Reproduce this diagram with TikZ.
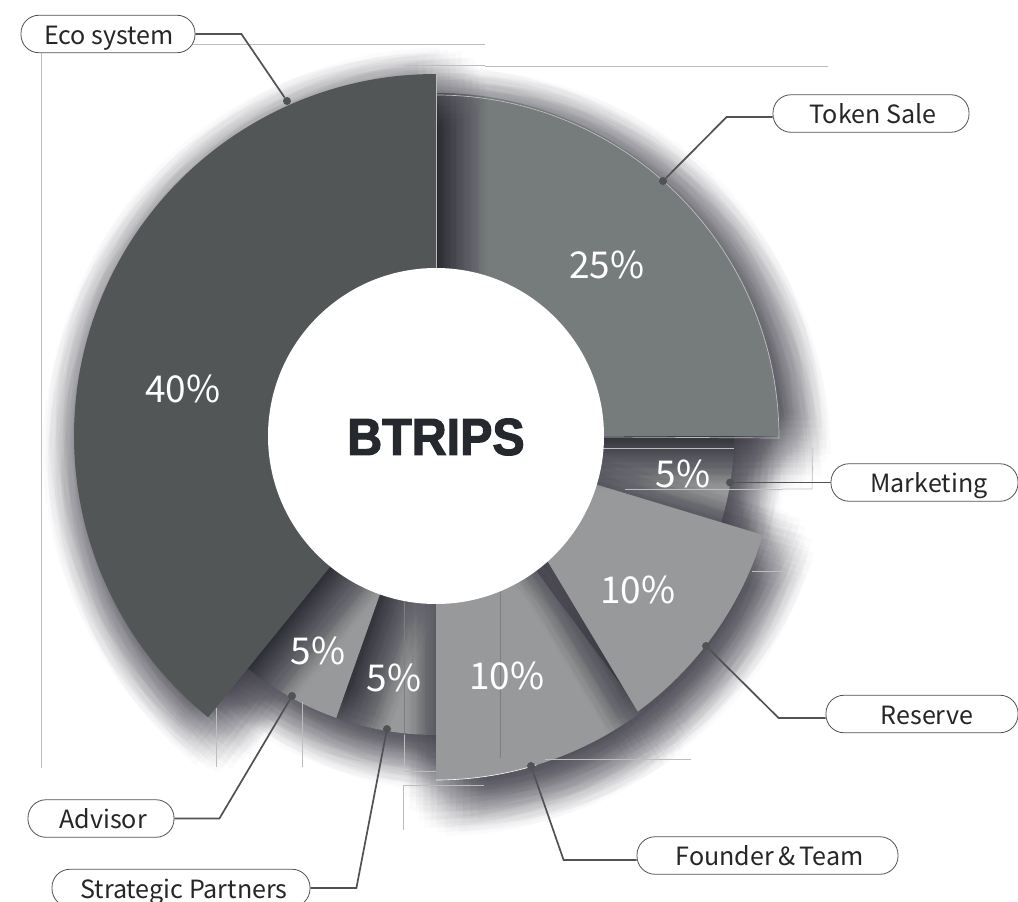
\documentclass[tikz,border=0pt]{standalone}
\usepackage{fontspec}
\setmainfont{Noto Sans CJK KR}
\newfontfamily\logofont{Liberation Sans Bold}[FakeBold=2.2,FakeStretch=0.93]
\definecolor{ecoc}{HTML}{525657}
\definecolor{tokc}{HTML}{767B7B}
\definecolor{midc}{HTML}{97999B}
\definecolor{shc}{HTML}{2B2936}
\definecolor{linec}{HTML}{4F5354}
\definecolor{ghost}{HTML}{BDBDBD}
\definecolor{ghostdark}{HTML}{7C7E7F}
\definecolor{logoc}{HTML}{25282C}
\newcommand{\shadowed}[2]{%
  \foreach \i in {1,...,110}{
    \pgfmathsetmacro{\dx}{10+42*sqrt(\i/110)*cos(137.508*\i)}
    \pgfmathsetmacro{\dy}{14+42*sqrt(\i/110)*sin(137.508*\i)}
    \path[shift={(\dx,\dy)},fill=shc,opacity=0.0176] #2;
  }
  \path[fill=#1] #2;
}
\newcommand{\pieslice}[4]{%
  \shadowed{#4}{(436,436) -- ({436+#1*cos(#2)},{436-#1*sin(#2)}) arc[start angle=#2,end angle=#3,radius=#1 pt] -- cycle}
}
\newcommand{\lab}[2][4pt]{\hspace*{#1}\raisebox{-10pt}[0pt][0pt]{#2}}
\tikzset{
  x=1pt,y=-1pt,
  pill/.style={draw=linec,line width=0.8pt,fill=white,rounded corners=18pt,minimum height=37.5pt,inner sep=0pt,text=black!85,font=\fontsize{25.1}{26}\selectfont},
  pct/.style={text=white,font=\fontsize{37}{37}\selectfont,inner sep=0pt},
  lead/.style={draw=linec,line width=1.7pt},
  dotn/.style={circle,fill=linec,inner sep=0pt,minimum size=8pt},
  ghostline/.style={draw=ghost,line width=0.6pt},
  ghostdk/.style={draw=ghostdark,line width=0.6pt}
}
\begin{document}
\begin{tikzpicture}
\useasboundingbox (0,0) rectangle (1018,902);
\fill[white] (0,0) rectangle (1018,902);
% slices, lowest first
\pieslice{298}{0}{-18}{midc}
\pieslice{299}{250.5}{270}{midc}
\pieslice{299}{231}{250.5}{midc}
\pieslice{344}{270}{306.6}{midc}
\shadowed{midc}{(436,436) -- (763,535) arc[start angle=-16.9,end angle=-53.8,radius=342pt] -- (548,562) -- cycle}
\pieslice{343}{0}{90}{tokc}
\pieslice{362}{90}{231}{ecoc}
% faint stray guide lines
\draw[ghostline] (41,768) -- (41,44) -- (485,44);
\draw[ghostline] (405,65) -- (485,65);
\draw[ghostline] (485,66) -- (828,66);
\draw[ghostline] (600,448) -- (734,448);
\draw[ghostline] (625,489) -- (782,489);
\draw[ghostline] (782,489) -- (812,489) -- (813,448);
\draw[ghostline] (752,571) -- (781,571);
\draw[ghostdk] (500,590) -- (500,758);
\draw[ghostline] (545,759) -- (691,759);
\draw[ghostline] (216,708) -- (216,767);
\draw[ghostline] (302,702) -- (302,767);
\draw[ghostdk] (404,600) -- (404,735);
\draw[ghostline] (404,735) -- (404,768);
\draw[ghostline] (404,771) -- (436,771);
\draw[ghostline] (484,785) -- (403,785) -- (403,830);
\draw[white,line width=0.6pt] (436,780) arc[start angle=270,end angle=287,radius=344pt];
\draw[ghost,line width=0.7pt] (436,95) arc[start angle=90,end angle=0,radius=343pt] -- (436,436);
\draw[ghost,line width=0.7pt] (436,74) -- (436,268);
% centre
\node[circle,fill=white,minimum size=336pt,inner sep=0pt] (hub) at (436,436) {};
\node[inner sep=0pt,text=logoc,font=\logofont\fontsize{52}{52}\selectfont] (logo) at (436,437) {BTRIPS};
% percentages
\node[pct] (p25) at (607,265) {25\%};
\node[pct] (p40) at (183,389) {40\%};
\node[pct] (p5a) at (683,474) {5\%};
\node[pct] (p10a) at (638,590) {10\%};
\node[pct] (p10b) at (507,676) {10\%};
\node[pct] (p5b) at (394,678) {5\%};
\node[pct] (p5c) at (318,651) {5\%};
% dots
\node[dotn] (dEco) at (287,101) {};
\node[dotn] (dTok) at (663,181) {};
\node[dotn] (dMar) at (730,482.5) {};
\node[dotn] (dRes) at (706,646) {};
\node[dotn] (dFou) at (531,766) {};
\node[dotn] (dStr) at (387,729) {};
\node[dotn] (dAdv) at (292,696) {};
% pills
\node[pill,minimum width=174pt] (nEco) at (108,34) {\lab[2pt]{Eco system}};
\node[pill,minimum width=196pt] (nTok) at (871,113.5) {\lab{Token Sale}};
\node[pill,minimum width=187pt] (nMar) at (924.5,482.5) {\lab[9pt]{Marketing}};
\node[pill,minimum width=192pt] (nRes) at (922,714) {\lab[10pt]{Reserve}};
\node[pill,minimum width=261pt] (nFou) at (767.5,855.5) {\lab{Founder\,\&\,Team}};
\node[pill,minimum width=146pt] (nAdv) at (101,818.5) {\lab{Advisor}};
\node[pill,minimum width=258pt] (nStr) at (181,888) {\lab[6pt]{Strategic Partners}};
% leaders
\draw[lead] (nEco.east) -- ++(46,0) -- (dEco);
\draw[lead] ([yshift=-3.5pt]nTok.west) -- ++(-46,0) -- (dTok);
\draw[lead] (nMar.west) -- (dMar);
\draw[lead] ([yshift=-4pt]nRes.west) -- ++(-47,0) -- (dRes);
\draw[lead] ([yshift=-4.5pt]nFou.west) -- ++(-73,0) -- (dFou);
\draw[lead] (nAdv.east) -- ++(45,0) -- (dAdv);
\draw[lead] (nStr.east) -- ++(46,0) -- (dStr);
\end{tikzpicture}
\end{document}
